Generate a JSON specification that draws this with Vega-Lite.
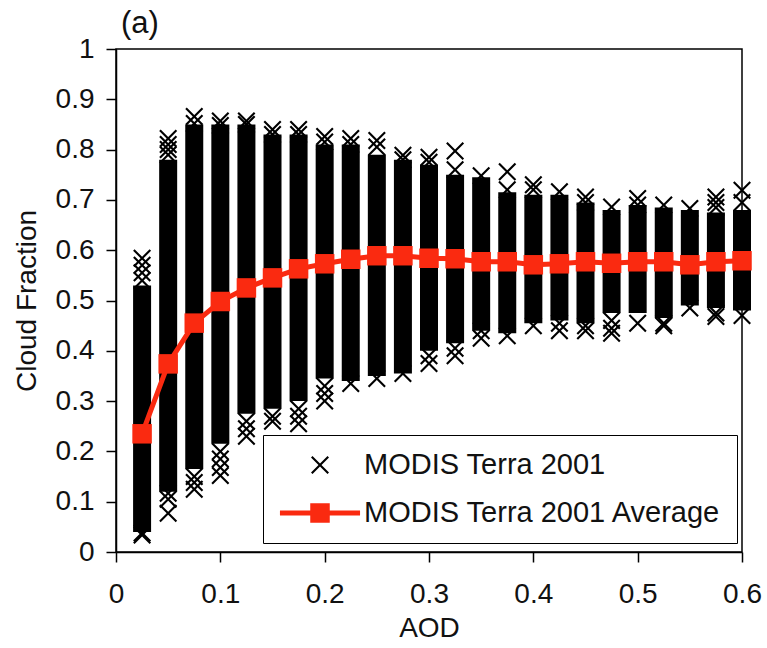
{
  "$schema": "https://vega.github.io/schema/vega-lite/v6.json",
  "width": 626,
  "height": 503,
  "autosize": {"type": "none"},
  "padding": {"left": 116, "top": 49, "right": 25, "bottom": 96},
  "background": "white",
  "title": {"text": "(a)", "anchor": "start", "frame": "group", "fontSize": 31, "font": "Liberation Sans", "fontWeight": "normal", "color": "#111", "baseline": "top", "offset": 9, "dy": 14, "dx": 5},
  "config": {
    "font": "Liberation Sans",
    "view": {"stroke": "black", "strokeWidth": 1.5},
    "axis": {"grid": false, "domainColor": "black", "domainWidth": 1.5, "tickColor": "black", "tickWidth": 1.5, "tickSize": 10, "labelFontSize": 28, "labelColor": "#111", "titleFontSize": 28, "titleFontWeight": "normal", "titleColor": "#111", "labelFont": "Liberation Sans", "titleFont": "Liberation Sans"},
    "legend": {"strokeColor": "black", "fillColor": "white", "padding": 15, "symbolSize": 900, "symbolOffset": 27, "labelOffset": 29, "labelFontSize": 29, "labelColor": "#111", "labelFont": "Liberation Sans", "rowPadding": 18, "symbolStrokeWidth": 0, "labelLimit": 0}
  },
  "datasets": {
    "columns": [
      {"aod": 0.025, "lo": 0.04, "hi": 0.53, "avg": 0.235},
      {"aod": 0.05, "lo": 0.12, "hi": 0.78, "avg": 0.374},
      {"aod": 0.075, "lo": 0.165, "hi": 0.85, "avg": 0.455},
      {"aod": 0.1, "lo": 0.215, "hi": 0.85, "avg": 0.498},
      {"aod": 0.125, "lo": 0.275, "hi": 0.85, "avg": 0.525},
      {"aod": 0.15, "lo": 0.285, "hi": 0.83, "avg": 0.545},
      {"aod": 0.175, "lo": 0.30, "hi": 0.83, "avg": 0.563},
      {"aod": 0.2, "lo": 0.345, "hi": 0.81, "avg": 0.573},
      {"aod": 0.225, "lo": 0.34, "hi": 0.81, "avg": 0.582},
      {"aod": 0.25, "lo": 0.35, "hi": 0.79, "avg": 0.589},
      {"aod": 0.275, "lo": 0.355, "hi": 0.78, "avg": 0.589},
      {"aod": 0.3, "lo": 0.40, "hi": 0.77, "avg": 0.584},
      {"aod": 0.325, "lo": 0.415, "hi": 0.75, "avg": 0.583},
      {"aod": 0.35, "lo": 0.44, "hi": 0.745, "avg": 0.577},
      {"aod": 0.375, "lo": 0.435, "hi": 0.715, "avg": 0.577},
      {"aod": 0.4, "lo": 0.455, "hi": 0.71, "avg": 0.571},
      {"aod": 0.425, "lo": 0.46, "hi": 0.71, "avg": 0.573},
      {"aod": 0.45, "lo": 0.455, "hi": 0.695, "avg": 0.577},
      {"aod": 0.475, "lo": 0.475, "hi": 0.68, "avg": 0.574},
      {"aod": 0.5, "lo": 0.475, "hi": 0.69, "avg": 0.577},
      {"aod": 0.525, "lo": 0.465, "hi": 0.685, "avg": 0.577},
      {"aod": 0.55, "lo": 0.49, "hi": 0.68, "avg": 0.571},
      {"aod": 0.575, "lo": 0.485, "hi": 0.675, "avg": 0.577},
      {"aod": 0.6, "lo": 0.48, "hi": 0.68, "avg": 0.579}
    ],
    "points": [
      {"aod": 0.025, "cf": 0.584, "series": "MODIS Terra 2001"},
      {"aod": 0.025, "cf": 0.57, "series": "MODIS Terra 2001"},
      {"aod": 0.025, "cf": 0.555, "series": "MODIS Terra 2001"},
      {"aod": 0.025, "cf": 0.54, "series": "MODIS Terra 2001"},
      {"aod": 0.025, "cf": 0.038, "series": "MODIS Terra 2001"},
      {"aod": 0.025, "cf": 0.034, "series": "MODIS Terra 2001"},
      {"aod": 0.05, "cf": 0.822, "series": "MODIS Terra 2001"},
      {"aod": 0.05, "cf": 0.81, "series": "MODIS Terra 2001"},
      {"aod": 0.05, "cf": 0.80, "series": "MODIS Terra 2001"},
      {"aod": 0.05, "cf": 0.79, "series": "MODIS Terra 2001"},
      {"aod": 0.05, "cf": 0.117, "series": "MODIS Terra 2001"},
      {"aod": 0.05, "cf": 0.105, "series": "MODIS Terra 2001"},
      {"aod": 0.05, "cf": 0.077, "series": "MODIS Terra 2001"},
      {"aod": 0.075, "cf": 0.866, "series": "MODIS Terra 2001"},
      {"aod": 0.075, "cf": 0.852, "series": "MODIS Terra 2001"},
      {"aod": 0.075, "cf": 0.15, "series": "MODIS Terra 2001"},
      {"aod": 0.075, "cf": 0.138, "series": "MODIS Terra 2001"},
      {"aod": 0.075, "cf": 0.125, "series": "MODIS Terra 2001"},
      {"aod": 0.1, "cf": 0.857, "series": "MODIS Terra 2001"},
      {"aod": 0.1, "cf": 0.848, "series": "MODIS Terra 2001"},
      {"aod": 0.1, "cf": 0.20, "series": "MODIS Terra 2001"},
      {"aod": 0.1, "cf": 0.185, "series": "MODIS Terra 2001"},
      {"aod": 0.1, "cf": 0.168, "series": "MODIS Terra 2001"},
      {"aod": 0.1, "cf": 0.152, "series": "MODIS Terra 2001"},
      {"aod": 0.125, "cf": 0.857, "series": "MODIS Terra 2001"},
      {"aod": 0.125, "cf": 0.85, "series": "MODIS Terra 2001"},
      {"aod": 0.125, "cf": 0.26, "series": "MODIS Terra 2001"},
      {"aod": 0.125, "cf": 0.245, "series": "MODIS Terra 2001"},
      {"aod": 0.125, "cf": 0.23, "series": "MODIS Terra 2001"},
      {"aod": 0.15, "cf": 0.84, "series": "MODIS Terra 2001"},
      {"aod": 0.15, "cf": 0.83, "series": "MODIS Terra 2001"},
      {"aod": 0.15, "cf": 0.27, "series": "MODIS Terra 2001"},
      {"aod": 0.15, "cf": 0.26, "series": "MODIS Terra 2001"},
      {"aod": 0.175, "cf": 0.84, "series": "MODIS Terra 2001"},
      {"aod": 0.175, "cf": 0.83, "series": "MODIS Terra 2001"},
      {"aod": 0.175, "cf": 0.285, "series": "MODIS Terra 2001"},
      {"aod": 0.175, "cf": 0.27, "series": "MODIS Terra 2001"},
      {"aod": 0.175, "cf": 0.255, "series": "MODIS Terra 2001"},
      {"aod": 0.2, "cf": 0.826, "series": "MODIS Terra 2001"},
      {"aod": 0.2, "cf": 0.815, "series": "MODIS Terra 2001"},
      {"aod": 0.2, "cf": 0.33, "series": "MODIS Terra 2001"},
      {"aod": 0.2, "cf": 0.315, "series": "MODIS Terra 2001"},
      {"aod": 0.2, "cf": 0.30, "series": "MODIS Terra 2001"},
      {"aod": 0.225, "cf": 0.822, "series": "MODIS Terra 2001"},
      {"aod": 0.225, "cf": 0.81, "series": "MODIS Terra 2001"},
      {"aod": 0.225, "cf": 0.335, "series": "MODIS Terra 2001"},
      {"aod": 0.25, "cf": 0.818, "series": "MODIS Terra 2001"},
      {"aod": 0.25, "cf": 0.805, "series": "MODIS Terra 2001"},
      {"aod": 0.25, "cf": 0.345, "series": "MODIS Terra 2001"},
      {"aod": 0.275, "cf": 0.789, "series": "MODIS Terra 2001"},
      {"aod": 0.275, "cf": 0.78, "series": "MODIS Terra 2001"},
      {"aod": 0.275, "cf": 0.355, "series": "MODIS Terra 2001"},
      {"aod": 0.3, "cf": 0.785, "series": "MODIS Terra 2001"},
      {"aod": 0.3, "cf": 0.775, "series": "MODIS Terra 2001"},
      {"aod": 0.3, "cf": 0.39, "series": "MODIS Terra 2001"},
      {"aod": 0.3, "cf": 0.375, "series": "MODIS Terra 2001"},
      {"aod": 0.325, "cf": 0.797, "series": "MODIS Terra 2001"},
      {"aod": 0.325, "cf": 0.76, "series": "MODIS Terra 2001"},
      {"aod": 0.325, "cf": 0.405, "series": "MODIS Terra 2001"},
      {"aod": 0.325, "cf": 0.39, "series": "MODIS Terra 2001"},
      {"aod": 0.35, "cf": 0.748, "series": "MODIS Terra 2001"},
      {"aod": 0.35, "cf": 0.44, "series": "MODIS Terra 2001"},
      {"aod": 0.35, "cf": 0.425, "series": "MODIS Terra 2001"},
      {"aod": 0.375, "cf": 0.756, "series": "MODIS Terra 2001"},
      {"aod": 0.375, "cf": 0.72, "series": "MODIS Terra 2001"},
      {"aod": 0.375, "cf": 0.43, "series": "MODIS Terra 2001"},
      {"aod": 0.4, "cf": 0.73, "series": "MODIS Terra 2001"},
      {"aod": 0.4, "cf": 0.72, "series": "MODIS Terra 2001"},
      {"aod": 0.4, "cf": 0.45, "series": "MODIS Terra 2001"},
      {"aod": 0.425, "cf": 0.716, "series": "MODIS Terra 2001"},
      {"aod": 0.425, "cf": 0.455, "series": "MODIS Terra 2001"},
      {"aod": 0.425, "cf": 0.44, "series": "MODIS Terra 2001"},
      {"aod": 0.45, "cf": 0.706, "series": "MODIS Terra 2001"},
      {"aod": 0.45, "cf": 0.695, "series": "MODIS Terra 2001"},
      {"aod": 0.45, "cf": 0.45, "series": "MODIS Terra 2001"},
      {"aod": 0.45, "cf": 0.44, "series": "MODIS Terra 2001"},
      {"aod": 0.475, "cf": 0.686, "series": "MODIS Terra 2001"},
      {"aod": 0.475, "cf": 0.46, "series": "MODIS Terra 2001"},
      {"aod": 0.475, "cf": 0.445, "series": "MODIS Terra 2001"},
      {"aod": 0.475, "cf": 0.435, "series": "MODIS Terra 2001"},
      {"aod": 0.5, "cf": 0.703, "series": "MODIS Terra 2001"},
      {"aod": 0.5, "cf": 0.69, "series": "MODIS Terra 2001"},
      {"aod": 0.5, "cf": 0.455, "series": "MODIS Terra 2001"},
      {"aod": 0.525, "cf": 0.69, "series": "MODIS Terra 2001"},
      {"aod": 0.525, "cf": 0.455, "series": "MODIS Terra 2001"},
      {"aod": 0.525, "cf": 0.45, "series": "MODIS Terra 2001"},
      {"aod": 0.55, "cf": 0.683, "series": "MODIS Terra 2001"},
      {"aod": 0.55, "cf": 0.485, "series": "MODIS Terra 2001"},
      {"aod": 0.575, "cf": 0.706, "series": "MODIS Terra 2001"},
      {"aod": 0.575, "cf": 0.695, "series": "MODIS Terra 2001"},
      {"aod": 0.575, "cf": 0.685, "series": "MODIS Terra 2001"},
      {"aod": 0.575, "cf": 0.475, "series": "MODIS Terra 2001"},
      {"aod": 0.575, "cf": 0.468, "series": "MODIS Terra 2001"},
      {"aod": 0.6, "cf": 0.719, "series": "MODIS Terra 2001"},
      {"aod": 0.6, "cf": 0.695, "series": "MODIS Terra 2001"},
      {"aod": 0.6, "cf": 0.47, "series": "MODIS Terra 2001"}
    ]
  },
  "layer": [
    {
      "data": {"name": "columns"},
      "mark": {"type": "rule", "strokeWidth": 18, "color": "black", "strokeCap": "butt"},
      "encoding": {
        "x": {"field": "aod", "type": "quantitative", "scale": {"domain": [0, 0.6], "nice": false, "zero": true},
              "axis": {"title": "AOD", "values": [0, 0.1, 0.2, 0.3, 0.4, 0.5, 0.6], "format": "~g", "labelPadding": 18, "titlePadding": 6, "labelFlush": false}},
        "y": {"field": "lo", "type": "quantitative", "scale": {"domain": [0, 1], "nice": false},
              "axis": {"title": "Cloud Fraction", "values": [0, 0.1, 0.2, 0.3, 0.4, 0.5, 0.6, 0.7, 0.8, 0.9, 1], "format": "~g", "labelPadding": 12, "titlePadding": 14, "labelFlush": false}},
        "y2": {"field": "hi"}
      }
    },
    {
      "data": {"name": "points"},
      "mark": {"type": "point", "filled": true, "opacity": 1, "size": 900, "strokeWidth": 0},
      "encoding": {
        "x": {"field": "aod", "type": "quantitative"},
        "y": {"field": "cf", "type": "quantitative"},
        "color": {"field": "series", "type": "nominal",
                  "scale": {"domain": ["MODIS Terra 2001", "MODIS Terra 2001 Average"], "range": ["black", "#fa2a10"]},
                  "legend": {"title": null, "orient": "none", "legendX": 147, "legendY": 386}},
        "shape": {"field": "series", "type": "nominal",
                  "scale": {"domain": ["MODIS Terra 2001", "MODIS Terra 2001 Average"],
                            "range": ["M-0.6,-0.5L-0.5,-0.6L0,-0.1L0.5,-0.6L0.6,-0.5L0.1,0L0.6,0.5L0.5,0.6L0,0.1L-0.5,0.6L-0.6,0.5L-0.1,0Z",
                                      "M-2.67,-0.17L-0.65,-0.17L-0.65,-0.65L0.65,-0.65L0.65,-0.17L2.67,-0.17L2.67,0.17L0.65,0.17L0.65,0.65L-0.65,0.65L-0.65,0.17L-2.67,0.17Z"]},
                  "legend": {"title": null, "orient": "none", "legendX": 147, "legendY": 386}}
      }
    },
    {
      "data": {"name": "columns"},
      "mark": {"type": "line", "color": "#fa2a10", "strokeWidth": 5},
      "encoding": {
        "x": {"field": "aod", "type": "quantitative"},
        "y": {"field": "avg", "type": "quantitative"}
      }
    },
    {
      "data": {"name": "columns"},
      "mark": {"type": "square", "color": "#fa2a10", "size": 380, "opacity": 1, "filled": true},
      "encoding": {
        "x": {"field": "aod", "type": "quantitative"},
        "y": {"field": "avg", "type": "quantitative"}
      }
    }
  ]
}
